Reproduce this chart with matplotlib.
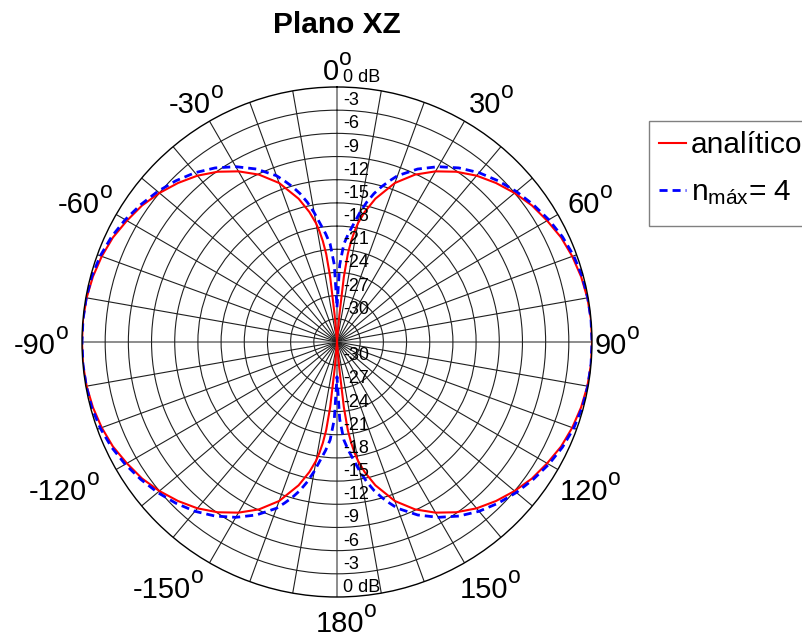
import numpy as np
from matplotlib import pyplot as plt
from matplotlib.patches import Rectangle
from matplotlib.transforms import offset_copy

plt.rcParams['font.family'] = ['Liberation Sans', 'DejaVu Sans']
plt.rcParams['mathtext.fontset'] = 'custom'
plt.rcParams['mathtext.rm'] = 'Liberation Sans'
plt.rcParams['mathtext.it'] = 'Liberation Sans:italic'
plt.rcParams['mathtext.bf'] = 'Liberation Sans:bold'

# one quadrant (0..90 deg), the pattern is symmetric
ang_analitico = [0, 4, 5, 6, 7, 8, 9, 10, 12, 15, 20, 25, 30, 35, 40, 45, 50, 55,
                 60, 65, 70, 75, 80, 85, 90]
db_analitico = [-40, -40, -29.5, -24.5, -21.5, -19.8, -18.5, -17.4, -15.8, -13.8,
                -11.1, -9.1, -7.5, -6.1, -4.9, -3.9, -3.0, -2.2, -1.6, -1.0, -0.6,
                -0.3, -0.1, 0.0, 0.0]

ang_nmax4 = [0, 2, 4, 6, 8, 10, 12, 14, 16, 18, 20, 25, 30, 35, 40, 45, 50, 55,
             60, 65, 70, 75, 80, 85, 90]
db_nmax4 = [-28.5, -23.0, -20.3, -18.9, -17.6, -16.0, -14.5, -13.2, -12.1, -11.1,
            -10.1, -8.3, -6.8, -5.5, -4.4, -3.5, -2.7, -2.0, -1.35, -0.8, -0.4,
            -0.15, -0.05, 0.0, 0.0]

db_min = -33
ring_db = [0, -3, -6, -9, -12, -15, -18, -21, -24, -27, -30]
label_angles = [0, 30, 60, 90, 120, 150, 180, -150, -120, -90, -60, -30]

# where the angle labels sit (pixels: centre x, baseline y)
label_cx = [337, 491, 590, 617, 590, 490, 346, 168, 64, 41, 85, 196]
label_base = [80, 113, 213, 354, 500, 598, 632, 598, 500, 354, 213, 113]

W, H = 803, 638


def full_circle(ang, db):
    a = np.array(ang, dtype=float)
    v = np.array(db, dtype=float)
    th = np.concatenate([a, 180 - a[::-1], 180 + a, 360 - a[::-1]])
    r = np.concatenate([v, v[::-1], v, v[::-1]])
    return np.radians(th), np.clip(r - db_min, 0, None)


fig = plt.figure(figsize=(W/100, H/100), dpi=100)
ax = fig.add_axes([82/W, 41/H, 510/W, 510/H], projection='polar')
ax.set_theta_zero_location('N')
ax.set_theta_direction(-1)
ax.set_rlim(0, -db_min)

ax.set_thetagrids(range(0, 360, 10), labels=[])
ax.set_rgrids([d - db_min for d in ring_db[1:]], labels=[])
ax.grid(True, color='#202020', lw=0.8, ls='-')
for tick in ax.xaxis.get_major_ticks():
    if round(np.degrees(tick.get_loc())) % 90 == 0:
        tick.gridline.set_color('#6e6e6e')
        tick.gridline.set_linewidth(1.1)
ax.tick_params(length=0)
ax.spines['polar'].set_linewidth(1.0)

th, r = full_circle(ang_analitico, db_analitico)
ax.plot(th, r, color='red', lw=1.5, label='analítico')
th, r = full_circle(ang_nmax4, db_nmax4)
ax.plot(th, r, color='blue', lw=2.0, dashes=(2.9, 1.8), label=r'n$_{\mathrm{máx}}$= 4')

# angle labels, with a raised "o" for the degree sign
rend = fig.canvas.get_renderer()
for a, cx, yb in zip(label_angles, label_cx, label_base):
    t = fig.text(0, 0, str(a), fontsize=21, ha='left', va='baseline')
    s = fig.text(0, 0, 'o', fontsize=16.5, ha='left', va='baseline')
    wd = t.get_window_extent(rend).width
    ws = s.get_window_extent(rend).width
    x0 = cx - (wd + ws) / 2
    t.set_position((x0 / W, 1 - yb / H))
    s.set_position(((x0 + wd) / W, 1 - (yb - 15) / H))

# dB labels along 0 and 180
trans = offset_copy(ax.transData, fig=fig, x=6, y=9.5, units='dots')
for d in ring_db:
    lbl = '0 dB' if d == 0 else str(d)
    ax.text(0, d - db_min, lbl, transform=trans, ha='left', va='center', fontsize=13)
    ax.text(np.pi, d - db_min, lbl, transform=trans, ha='left', va='center', fontsize=13)

fig.text(337/W, 1 - 25/H, 'Plano XZ', ha='center', va='center',
         fontsize=21.5, fontweight='bold')

# legend box (runs off the right edge like the original)
fig.patches.append(Rectangle((649/W, 1 - 226/H), 180/W, 105/H, transform=fig.transFigure,
                             facecolor='white', edgecolor='#808080', lw=1.0, zorder=4))
leg = fig.legend(loc='upper left', bbox_to_anchor=(649/W, 1 - 121/H),
                 fontsize=21.5, frameon=False, borderaxespad=0, handlelength=0.9,
                 handletextpad=0.15, borderpad=0.35, labelspacing=0.62)
leg.set_zorder(5)

fig.savefig('out.png', dpi=100)
